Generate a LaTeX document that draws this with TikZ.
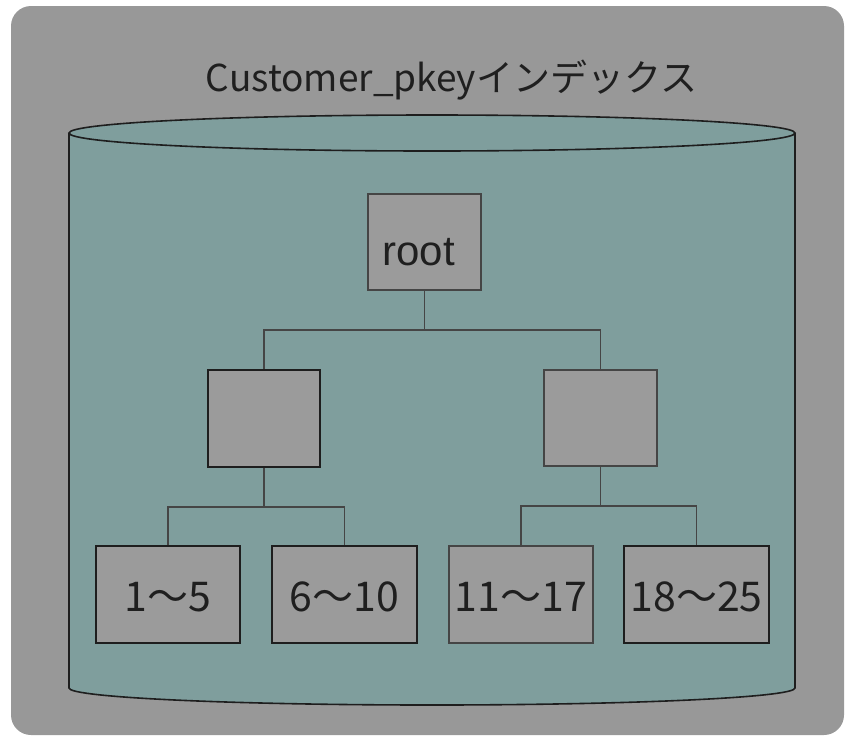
\documentclass[tikz,border=0pt]{standalone}
\usepackage{fontspec}
\setmainfont{Liberation Sans}
\newfontfamily\jpfont{Noto Sans CJK JP}
\definecolor{bggray}{HTML}{989898}
\definecolor{cyl}{HTML}{7F9E9D}
\definecolor{boxgray}{HTML}{9B9B9B}
\definecolor{linegray}{HTML}{454545}
\definecolor{darkline}{HTML}{1E1E1E}
\tikzset{
  x=1pt, y=-1pt,
  tnode/.style={draw=linegray, line width=1.4pt, fill=boxgray, inner sep=0pt},
  thnode/.style={draw=darkline, line width=2.2pt, fill=boxgray, inner sep=0pt},
  midbox/.style={minimum width=112pt, minimum height=96pt},
  leafbox/.style={minimum width=144pt, minimum height=97pt, font=\jpfont\fontsize{41}{41}\selectfont},
  conn/.style={draw=linegray, line width=1.1pt},
}
\newcommand\leaftxt[1]{\smash{\raisebox{-17pt}{#1}}}
\begin{document}
\begin{tikzpicture}
\useasboundingbox (0,0) rectangle (845,737);
\fill[bggray, rounded corners=20pt] (11,6) rectangle (844,735);
% cylinder
\fill[cyl] (69,133) -- (69,688) arc[start angle=180, end angle=360, x radius=363pt, y radius=17pt] -- (795,133) arc[start angle=0, end angle=180, x radius=363pt, y radius=18pt] -- cycle;
\draw[darkline, line width=1.6pt] (69,133) -- (69,688) arc[start angle=180, end angle=360, x radius=363pt, y radius=17pt] -- (795,133);
\draw[darkline, line width=1.6pt] (432,133) ellipse[x radius=363pt, y radius=18pt];
% title
\node[anchor=base, inner sep=0pt, font=\jpfont\fontsize{37}{37}\selectfont, text=black!88] (title) at (451.5,91) {Customer\_pkeyインデックス};
% tree
\node[tnode, midbox, minimum width=113pt, font=\fontsize{42}{42}\selectfont, text=black!88] (root) at (424.5,242) {\smash{\raisebox{-23pt}{\hspace*{-12pt}root}}};
\node[thnode, midbox, minimum height=97pt] (lmid) at (264,418.5) {};
\node[tnode, midbox, minimum width=113pt] (rmid) at (600.5,418) {};
\node[thnode, leafbox, text=black!88] (la) at (168,594.5) {\leaftxt{1～5}};
\node[thnode, leafbox, minimum width=145pt, text=black!88] (lb) at (344.5,594.5) {\leaftxt{6～10}};
\node[tnode, leafbox, text=black!88] (ra) at (521,594.5) {\leaftxt{11～17}};
\node[thnode, leafbox, minimum width=145pt, text=black!88] (rb) at (696.5,594.5) {\leaftxt{18～25}};
\coordinate (busTop) at (424.5,330);
\coordinate (busL) at (264,507);
\coordinate (busR) at (600.5,506);
\draw[conn] (root.south) -- (busTop);
\draw[conn] (lmid.north) |- (busTop) -| (rmid.north);
\draw[conn] (lmid.south) -- (busL);
\draw[conn] (la.north) |- (busL) -| (lb.north);
\draw[conn] (rmid.south) -- (busR);
\draw[conn] (ra.north) |- (busR) -| (rb.north);
\end{tikzpicture}
\end{document}
